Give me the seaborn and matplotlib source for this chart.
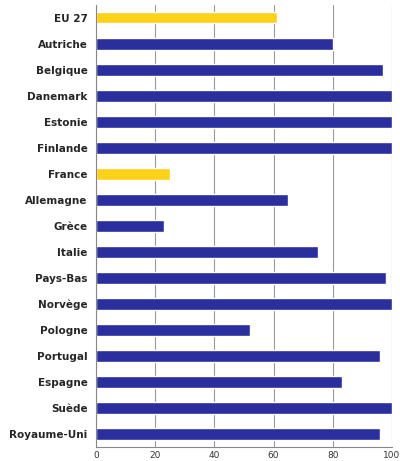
import matplotlib
matplotlib.use("Agg")
import matplotlib.pyplot as plt
import seaborn as sns
import pandas as pd

countries = ["EU 27","Autriche","Belgique","Danemark","Estonie","Finlande","France","Allemagne",
             "Grèce","Italie","Pays-Bas","Norvège","Pologne","Portugal","Espagne","Suède","Royaume-Uni"]
values = [61,80,97,100,100,100,25,65,23,75,98,100,52,96,83,100,96]
highlight = ["EU 27","France"]

df = pd.DataFrame({"country": countries, "value": values})
palette = ["#FFD21A" if c in highlight else "#2B2F9E" for c in countries]

sns.set_style("white")
fig = plt.figure(figsize=(4.0, 4.61), dpi=100)
ax = fig.add_axes([0.24, 0.03, 0.74, 0.96])
sns.barplot(data=df, x="value", y="country", hue="country", palette=palette,
            legend=False, ax=ax, width=0.45, saturation=1)
ax.set_xlim(0, 100)
ax.set_xticks(range(0, 101, 20))
ax.xaxis.grid(True, color="#999999", linewidth=0.8)
ax.set_axisbelow(True)
ax.set_xlabel(""); ax.set_ylabel("")
ax.tick_params(axis="x", labelsize=6.5, colors="#333333", length=0, pad=3)
ax.tick_params(axis="y", labelsize=7.5, length=0, pad=6)
for t in ax.get_yticklabels():
    t.set_fontweight("bold")
for s in ["top","right"]:
    ax.spines[s].set_visible(False)
ax.spines["left"].set_color("#888888")
ax.spines["bottom"].set_color("#888888")
fig.savefig("out.png", dpi=100)
